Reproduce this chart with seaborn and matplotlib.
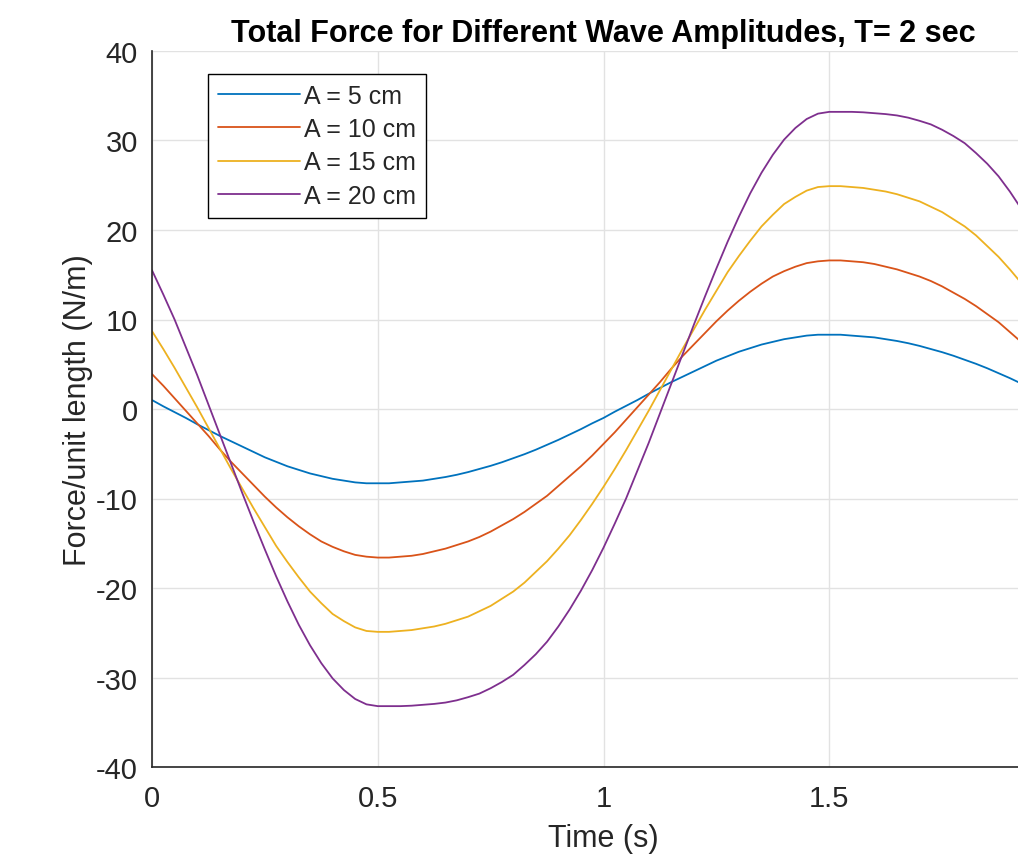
import matplotlib
matplotlib.use('Agg')
import matplotlib.pyplot as plt
import seaborn as sns
import pandas as pd

# time axis (s)
time_s = [0.000, 0.025, 0.050, 0.075, 0.100, 0.125, 0.150, 0.175, 0.200, 0.225,
          0.250, 0.275, 0.300, 0.325, 0.350, 0.375, 0.400, 0.425, 0.450, 0.475,
          0.500, 0.525, 0.550, 0.575, 0.600, 0.625, 0.650, 0.675, 0.700, 0.725,
          0.750, 0.775, 0.800, 0.825, 0.850, 0.875, 0.900, 0.925, 0.950, 0.975,
          1.000, 1.025, 1.050, 1.075, 1.100, 1.125, 1.150, 1.175, 1.200, 1.225,
          1.250, 1.275, 1.300, 1.325, 1.350, 1.375, 1.400, 1.425, 1.450, 1.475,
          1.500, 1.525, 1.550, 1.575, 1.600, 1.625, 1.650, 1.675, 1.700, 1.725,
          1.750, 1.775, 1.800, 1.825, 1.850, 1.875, 1.900, 1.925, 1.950, 1.975,
          2.000]

# force per unit length (N/m)
force_a5 = [1.0, 0.3, -0.35, -1.0, -1.7, -2.35, -3.0, -3.6, -4.2, -4.8,
            -5.4, -5.9, -6.4, -6.8, -7.2, -7.5, -7.8, -8.0, -8.2, -8.3,
            -8.3, -8.3, -8.2, -8.1, -8.0, -7.8, -7.6, -7.35, -7.05, -6.7,
            -6.35, -5.95, -5.5, -5.05, -4.55, -4.0, -3.45, -2.85, -2.25, -1.6,
            -1.0, -0.3, 0.35, 1.0, 1.7, 2.35, 3.0, 3.6, 4.2, 4.8,
            5.4, 5.9, 6.4, 6.8, 7.2, 7.5, 7.8, 8.0, 8.2, 8.3,
            8.3, 8.3, 8.2, 8.1, 8.0, 7.8, 7.6, 7.35, 7.05, 6.7,
            6.35, 5.95, 5.5, 5.05, 4.55, 4.0, 3.45, 2.85, 2.25, 1.6,
            1.0]
force_a10 = [3.9, 2.6, 1.2, -0.2, -1.6, -3.0, -4.5, -5.9, -7.2, -8.5,
             -9.8, -11.0, -12.1, -13.1, -14.0, -14.8, -15.4, -15.9, -16.3, -16.5,
             -16.6, -16.6, -16.5, -16.4, -16.2, -15.9, -15.6, -15.2, -14.8, -14.3,
             -13.7, -13.0, -12.3, -11.5, -10.6, -9.7, -8.6, -7.5, -6.4, -5.2,
             -3.9, -2.6, -1.2, 0.2, 1.6, 3.0, 4.5, 5.9, 7.2, 8.5,
             9.8, 11.0, 12.1, 13.1, 14.0, 14.8, 15.4, 15.9, 16.3, 16.5,
             16.6, 16.6, 16.5, 16.4, 16.2, 15.9, 15.6, 15.2, 14.8, 14.3,
             13.7, 13.0, 12.3, 11.5, 10.6, 9.7, 8.6, 7.5, 6.4, 5.2,
             3.9]
force_a15 = [8.7, 6.7, 4.6, 2.4, 0.2, -2.1, -4.4, -6.7, -8.9, -11.1,
             -13.2, -15.3, -17.1, -18.8, -20.4, -21.7, -22.9, -23.7, -24.4, -24.8,
             -24.9, -24.9, -24.8, -24.7, -24.5, -24.3, -24.0, -23.6, -23.2, -22.6,
             -22.0, -21.2, -20.4, -19.4, -18.2, -17.0, -15.6, -14.1, -12.4, -10.6,
             -8.7, -6.7, -4.6, -2.4, -0.2, 2.1, 4.4, 6.7, 8.9, 11.1,
             13.2, 15.3, 17.1, 18.8, 20.4, 21.7, 22.9, 23.7, 24.4, 24.8,
             24.9, 24.9, 24.8, 24.7, 24.5, 24.3, 24.0, 23.6, 23.2, 22.6,
             22.0, 21.2, 20.4, 19.4, 18.2, 17.0, 15.6, 14.1, 12.4, 10.6,
             8.7]
force_a20 = [15.5, 12.8, 10.0, 6.9, 3.8, 0.5, -2.8, -6.1, -9.4, -12.6,
             -15.7, -18.7, -21.5, -24.1, -26.4, -28.4, -30.1, -31.4, -32.4, -33.0,
             -33.2, -33.2, -33.2, -33.15, -33.05, -32.95, -32.8, -32.55, -32.2, -31.8,
             -31.2, -30.5, -29.7, -28.6, -27.4, -26.0, -24.3, -22.4, -20.3, -18.0,
             -15.5, -12.8, -10.0, -6.9, -3.8, -0.5, 2.8, 6.1, 9.4, 12.6,
             15.7, 18.7, 21.5, 24.1, 26.4, 28.4, 30.1, 31.4, 32.4, 33.0,
             33.2, 33.2, 33.2, 33.15, 33.05, 32.95, 32.8, 32.55, 32.2, 31.8,
             31.2, 30.5, 29.7, 28.6, 27.4, 26.0, 24.3, 22.4, 20.3, 18.0,
             15.5]

labels = ['A = 5 cm', 'A = 10 cm', 'A = 15 cm', 'A = 20 cm']
colors = ['#0072BD', '#D95319', '#EDB120', '#7E2F8E']
x_ticks = [0, 0.5, 1, 1.5]
x_ticklabels = ['0', '0.5', '1', '1.5']
y_ticks = [-40, -30, -20, -10, 0, 10, 20, 30, 40]

sns.set_theme(style='whitegrid')
plt.rcParams['font.family'] = ['Liberation Sans', 'DejaVu Sans']
plt.rcParams['axes.unicode_minus'] = False

# long form table for seaborn
frames = []
for lab, vals in zip(labels, [force_a5, force_a10, force_a15, force_a20]):
    frames.append(pd.DataFrame({'time': time_s, 'force': vals, 'amp': lab}))
df = pd.concat(frames, ignore_index=True)

fig = plt.figure(figsize=(10.18, 8.62), dpi=100)
# axes runs past the right edge of the picture (cropped like the original)
ax = fig.add_axes([152 / 1018, 1 - 768 / 862, (1055 - 152) / 1018, (768 - 52) / 862])

sns.lineplot(data=df, x='time', y='force', hue='amp', hue_order=labels,
             palette=colors, linewidth=1.3, estimator=None, sort=False, ax=ax)

ax.set_xlim(0, 2)
ax.set_ylim(-40, 40)
ax.set_xticks(x_ticks)
ax.set_xticklabels(x_ticklabels)
ax.set_yticks(y_ticks)
ax.set_yticklabels([str(v) for v in y_ticks])
ax.tick_params(axis='both', direction='in', length=8, width=1.2, colors='#262626',
               labelsize=21, labelcolor='#262626')
ax.tick_params(axis='x', pad=12)
ax.tick_params(axis='y', pad=10)

ax.grid(True, color='#e2e2e2', linewidth=1.0)
ax.set_axisbelow(True)
for side in ['top', 'right']:
    ax.spines[side].set_visible(False)
for side in ['left', 'bottom']:
    ax.spines[side].set_color('#262626')
    ax.spines[side].set_linewidth(1.2)

ax.set_xlabel('Time (s)', fontsize=22, color='#262626', labelpad=8)
ax.set_ylabel('Force/unit length (N/m)', fontsize=22, color='#262626', labelpad=2)
ax.set_title('Total Force for Different Wave Amplitudes, T= 2 sec',
             fontsize=22, fontweight='bold', color='black', pad=7)

handles, hl = ax.get_legend_handles_labels()
leg = ax.legend(handles, hl, loc='upper left', bbox_to_anchor=(0.062, 0.968),
                borderaxespad=0, fontsize=18, frameon=True, fancybox=False,
                edgecolor='black', framealpha=1, handlelength=3.3,
                handletextpad=0.15, labelspacing=0.37, borderpad=0.4)
leg.get_frame().set_linewidth(1.0)

fig.savefig('out.png', dpi=100)
